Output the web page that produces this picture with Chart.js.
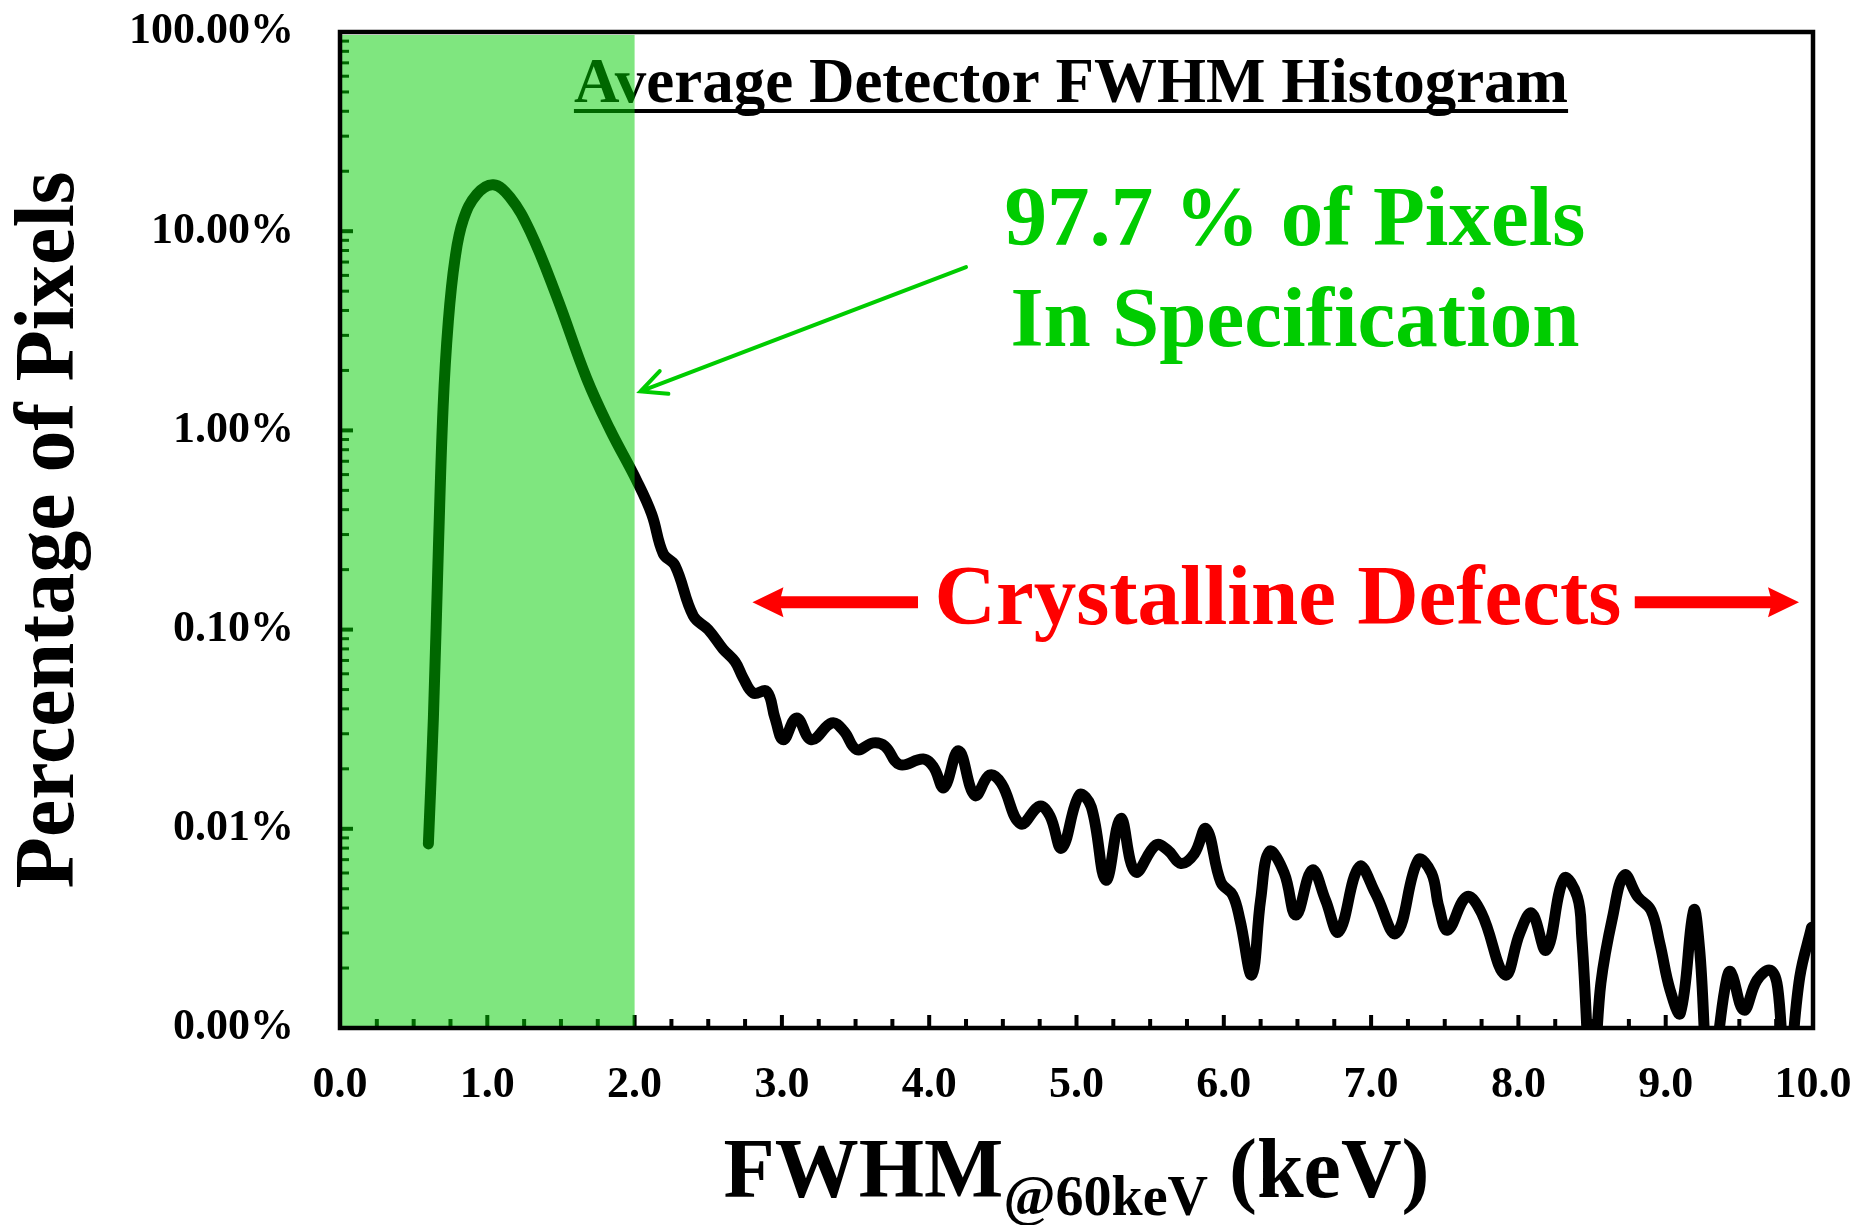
<!DOCTYPE html>
<html>
<head>
<meta charset="utf-8">
<script src="https://cdn.jsdelivr.net/npm/chart.js@4.4.1/dist/chart.umd.min.js"></script>
<style>
  html, body { margin: 0; padding: 0; background: #fff; }
  #wrap { width: 1858px; height: 1225px; }
</style>
</head>
<body>
<div id="wrap"><canvas id="fwhmChart"></canvas></div>
<script>
// FWHM @60keV (keV) and percentage of pixels
const fwhmKeV = [
  0.60, 0.634, 0.668, 0.70, 0.735, 0.78, 0.837, 0.928, 1.041, 1.154,
  1.29, 1.471, 1.675, 1.833, 2.014, 2.116, 2.195, 2.274, 2.399, 2.50,
  2.60, 2.682, 2.738, 2.806, 2.897, 2.953, 3.01, 3.10, 3.20, 3.34,
  3.42, 3.508, 3.62, 3.70, 3.80, 3.96, 4.03, 4.10, 4.20, 4.31,
  4.41, 4.49, 4.62, 4.75, 4.82, 4.90, 5.02, 5.10, 5.20, 5.30,
  5.40, 5.54, 5.62, 5.71, 5.80, 5.88, 5.98, 6.06, 6.11, 6.19,
  6.25, 6.31, 6.41, 6.49, 6.60, 6.69, 6.78, 6.92, 7.03, 7.17,
  7.32, 7.41, 7.46, 7.52, 7.65, 7.75, 7.91, 8.01, 8.09, 8.19,
  8.31, 8.40, 8.43, 8.50, 8.56, 8.64, 8.72, 8.81, 8.90, 8.96,
  9.03, 9.10, 9.19, 9.23, 9.30, 9.40, 9.44, 9.53, 9.62, 9.71,
  9.76, 9.82, 9.91, 9.99
];
const pixelPct = [
  0.0084, 0.036, 0.256, 1.31, 3.5, 7.2, 11.4, 15.3, 17.1, 14.8,
  10.0, 4.7, 1.82, 1.01, 0.56, 0.38, 0.24, 0.21, 0.117, 0.100,
  0.080, 0.069, 0.057, 0.048, 0.049, 0.036, 0.028, 0.036, 0.028, 0.034,
  0.031, 0.025, 0.027, 0.026, 0.021, 0.0224, 0.0204, 0.0161, 0.0246, 0.0147,
  0.0186, 0.0169, 0.0106, 0.013, 0.0116, 0.0080, 0.0148, 0.0129, 0.00553, 0.01127,
  0.00608, 0.0083, 0.0078, 0.0067, 0.0075, 0.0100, 0.0054, 0.00465, 0.00348, 0.00185,
  0.0044, 0.0077, 0.0060, 0.00369, 0.0062, 0.0044, 0.00304, 0.00645, 0.00474, 0.00299,
  0.00697, 0.0060, 0.00406, 0.0031, 0.00456, 0.00377, 0.00185, 0.0030, 0.00377, 0.00246,
  0.00564, 0.00456, 0.00287, 0.0005, 0.00168, 0.00362, 0.00586, 0.00456, 0.0039, 0.00266,
  0.00155, 0.00119, 0.0039, 0.0025, 0.0005, 0.00155, 0.00192, 0.00123, 0.00174, 0.00195,
  0.0016, 0.0005, 0.0018, 0.0032
];
const xTickLabels = ['0.0', '1.0', '2.0', '3.0', '4.0', '5.0', '6.0', '7.0', '8.0', '9.0', '10.0'];
const yTickValues = [0.001, 0.01, 0.1, 1, 10, 100];
const yTickLabels = ['0.00%', '0.01%', '0.10%', '1.00%', '10.00%', '100.00%'];
const specLimitKeV = 2.0;

const serif = '"Liberation Serif", "Times New Roman", serif';

function drawArrowHead(ctx, tipX, tipY, dir, len, half, notch) {
  // filled barbed head pointing in direction dir (+1 right, -1 left)
  ctx.beginPath();
  ctx.moveTo(tipX, tipY);
  ctx.lineTo(tipX - dir * len, tipY - half);
  ctx.lineTo(tipX - dir * (len - notch), tipY);
  ctx.lineTo(tipX - dir * len, tipY + half);
  ctx.closePath();
  ctx.fill();
}

function noScalePadding(scale) {
  scale.paddingTop = 0;
  scale.paddingBottom = 0;
  scale.paddingLeft = 0;
  scale.paddingRight = 0;
}

const decorPlugin = {
  id: 'decor',
  afterDatasetsDraw(chart) {
    const ctx = chart.ctx;
    const area = chart.chartArea;
    const xs = chart.scales.x;
    const ys = chart.scales.y;
    const px = (x, y) => [xs.getPixelForValue(x), ys.getPixelForValue(y)];
    ctx.save();

    // title inside the plot, underlined
    const title = 'Average Detector FWHM Histogram';
    ctx.fillStyle = '#000';
    ctx.font = 'bold 63px ' + serif;
    ctx.textAlign = 'center';
    ctx.textBaseline = 'alphabetic';
    ctx.fillText(title, 1071, 102);
    const tw = ctx.measureText(title).width;
    ctx.fillRect(1071 - tw / 2, 109, tw, 4);

    // inward tick marks
    ctx.fillStyle = '#000';
    for (let d = -3; d <= 2; d++) {
      for (let m = 1; m <= 9; m++) {
        const v = m * Math.pow(10, d);
        if (v > 100.0001) break;
        const y = ys.getPixelForValue(v);
        if (m === 1) ctx.fillRect(area.left, y - 2, 13, 4);
        else ctx.fillRect(area.left, y - 1.5, 9, 3);
      }
    }
    for (let i = 0; i <= 40; i++) {
      const x = xs.getPixelForValue(i * 0.25);
      if (i % 4 === 0) ctx.fillRect(x - 2, area.bottom - 13, 4, 13);
      else ctx.fillRect(x - 2, area.bottom - 9, 4, 9);
    }

    // specification band overlay
    const bandRight = xs.getPixelForValue(specLimitKeV);
    ctx.fillStyle = 'rgba(0, 205, 0, 0.5)';
    ctx.fillRect(area.left, area.top + 3, bandRight - area.left, area.bottom - area.top - 3);

    // frame
    ctx.strokeStyle = '#000';
    ctx.lineWidth = 4.5;
    ctx.strokeRect(area.left, area.top, area.right - area.left, area.bottom - area.top);

    // green annotation
    ctx.fillStyle = '#00cc00';
    ctx.strokeStyle = '#00cc00';
    ctx.font = 'bold 85px ' + serif;
    ctx.textAlign = 'center';
    ctx.fillText('97.7 % of Pixels', 1295, 245);
    ctx.fillText('In Specification', 1295, 346);
    const [gx1, gy1] = px(4.25, 6.6);
    const [gx2, gy2] = px(2.04, 1.57);
    ctx.lineWidth = 4;
    ctx.lineCap = 'round';
    ctx.beginPath();
    ctx.moveTo(gx1, gy1);
    ctx.lineTo(gx2, gy2);
    const ang = Math.atan2(gy1 - gy2, gx1 - gx2);
    const barb = 28, spread = 0.45;
    ctx.moveTo(gx2 + barb * Math.cos(ang + spread), gy2 + barb * Math.sin(ang + spread));
    ctx.lineTo(gx2, gy2);
    ctx.lineTo(gx2 + barb * Math.cos(ang - spread), gy2 + barb * Math.sin(ang - spread));
    ctx.stroke();

    // red annotation
    ctx.fillStyle = '#ff0000';
    ctx.strokeStyle = '#ff0000';
    ctx.fillText('Crystalline Defects', 1278, 624);
    const [lt, ry] = px(2.80, 0.137);
    const [ltail] = px(3.924, 0.137);
    const [rtail] = px(8.79, 0.137);
    const [rt] = px(9.905, 0.137);
    ctx.lineCap = 'butt';
    ctx.lineWidth = 12;
    ctx.beginPath();
    ctx.moveTo(ltail, ry); ctx.lineTo(lt + 26, ry);
    ctx.moveTo(rtail, ry); ctx.lineTo(rt - 26, ry);
    ctx.stroke();
    drawArrowHead(ctx, lt, ry, -1, 31, 15, 4);
    drawArrowHead(ctx, rt, ry, 1, 31, 15, 4);

    // axis titles
    ctx.fillStyle = '#000';
    ctx.save();
    ctx.translate(73, (area.top + area.bottom) / 2);
    ctx.rotate(-Math.PI / 2);
    ctx.font = 'bold 84px ' + serif;
    ctx.textAlign = 'center';
    ctx.fillText('Percentage of Pixels', 0, 0);
    ctx.restore();

    ctx.textAlign = 'left';
    ctx.font = 'bold 84px ' + serif;
    const w1 = ctx.measureText('FWHM').width;
    const w3 = ctx.measureText(' (keV)').width;
    ctx.font = 'bold 56px ' + serif;
    const w2 = ctx.measureText('@60keV').width;
    let sx = (area.left + area.right) / 2 - (w1 + w2 + w3) / 2;
    ctx.font = 'bold 84px ' + serif;
    ctx.fillText('FWHM', sx, 1197);
    ctx.font = 'bold 56px ' + serif;
    ctx.fillText('@60keV', sx + w1, 1215);
    ctx.font = 'bold 84px ' + serif;
    ctx.fillText(' (keV)', sx + w1 + w2, 1197);

    ctx.restore();
  }
};

const ctx = document.getElementById('fwhmChart').getContext('2d');
const fwhmChart = new Chart(ctx, {
  type: 'line',
  data: {
    datasets: [{
      data: fwhmKeV.map((x, i) => ({ x: x, y: pixelPct[i] })),
      borderColor: '#000',
      borderWidth: 11,
      pointRadius: 0,
      tension: 0.4,
      borderCapStyle: 'round',
      borderJoinStyle: 'round',
      fill: false
    }]
  },
  options: {
    responsive: true,
    maintainAspectRatio: false,
    animation: false,
    layout: { padding: { left: 0, right: 45, top: 32, bottom: 0 } },
    plugins: { legend: { display: false }, tooltip: { enabled: false } },
    scales: {
      x: {
        type: 'linear',
        min: 0,
        max: 10,
        grid: { display: false, drawTicks: false },
        border: { display: false },
        ticks: {
          stepSize: 1,
          autoSkip: false,
          maxRotation: 0,
          padding: 31,
          color: '#000',
          font: { family: serif, size: 44, weight: 'bold' },
          callback: (value, index) => xTickLabels[index]
        },
        afterFit: (scale) => { scale.height = 197; noScalePadding(scale); }
      },
      y: {
        type: 'logarithmic',
        min: 0.001,
        max: 100,
        grid: { display: false, drawTicks: false },
        border: { display: false },
        afterBuildTicks: (scale) => { scale.ticks = yTickValues.map(v => ({ value: v })); },
        ticks: {
          padding: 46,
          color: '#000',
          font: { family: serif, size: 44, weight: 'bold' },
          callback: (value, index) => yTickLabels[index]
        },
        afterFit: (scale) => { scale.width = 340; noScalePadding(scale); }
      }
    }
  },
  plugins: [decorPlugin]
});
</script>
</body>
</html>
